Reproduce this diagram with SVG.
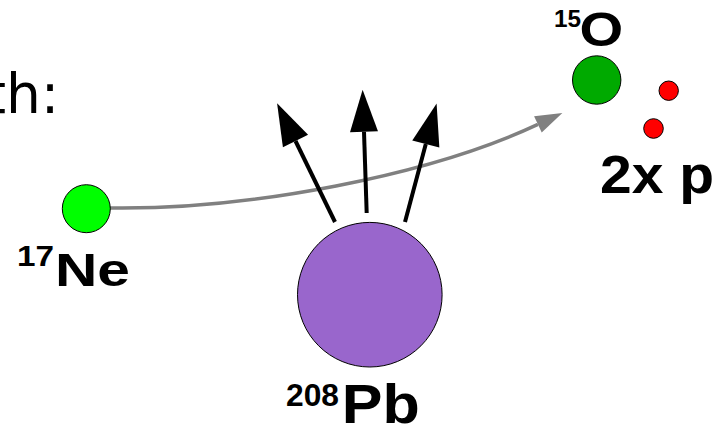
<svg xmlns="http://www.w3.org/2000/svg" width="721" height="426" viewBox="0 0 721 426">
<defs>
<style>
.lbl{font-family:"Liberation Sans",Arial,sans-serif;font-weight:bold;fill:#000}
.nuc{stroke:#000;stroke-width:1}
.blk{stroke:#000;stroke-width:4;fill:none}
.gry{stroke:#808080;stroke-width:3.5;fill:none}
</style>
<marker id="ab" markerUnits="userSpaceOnUse" markerWidth="44" markerHeight="30" refX="0" refY="14" orient="auto" overflow="visible">
<path d="M0,0 L42,14 L0,28 z" fill="#000"/>
</marker>
<marker id="ag" markerUnits="userSpaceOnUse" markerWidth="28" markerHeight="20" refX="0" refY="9" orient="auto" overflow="visible">
<path d="M0,0 L27,9 L0,18 z" fill="#808080"/>
</marker>
</defs>
<rect width="721" height="426" fill="#fff"/>
<text x="59.4" y="113.3" text-anchor="end" font-family="'DejaVu Sans',sans-serif" font-size="55" fill="#000">th:</text>
<g id="connectors">
<path class="gry" d="M110,208 C250,210 430,175 537.9,124.4" marker-end="url(#ag)"/>
<line class="blk" x1="335" y1="222" x2="295.5" y2="141" marker-end="url(#ab)"/>
<line class="blk" x1="366.7" y1="213" x2="364" y2="131.7" marker-end="url(#ab)"/>
<line class="blk" x1="405" y1="222" x2="425.8" y2="144" marker-end="url(#ab)"/>
</g>
<g id="ne17">
<circle class="nuc" cx="86.3" cy="208.7" r="24" fill="#00ff00"/>
<text class="lbl" x="17" y="266" font-size="29" textLength="37" lengthAdjust="spacingAndGlyphs">17</text>
<text class="lbl" x="55" y="286" font-size="46" textLength="75" lengthAdjust="spacingAndGlyphs">Ne</text>
</g>
<g id="pb208">
<circle class="nuc" cx="369.8" cy="294.7" r="72.3" fill="#9966cc"/>
<text class="lbl" x="286" y="406" font-size="31" textLength="53" lengthAdjust="spacingAndGlyphs">208</text>
<text class="lbl" x="341.7" y="423.3" font-size="56" textLength="78" lengthAdjust="spacingAndGlyphs">Pb</text>
</g>
<g id="o15">
<circle class="nuc" cx="596.7" cy="80" r="24.2" fill="#00aa00"/>
<text class="lbl" x="554" y="27" font-size="24" textLength="27" lengthAdjust="spacingAndGlyphs">15</text>
<text class="lbl" x="579.5" y="46" font-size="48" textLength="43.7" lengthAdjust="spacingAndGlyphs">O</text>
</g>
<g id="protons">
<circle class="nuc" cx="668.7" cy="90.7" r="9.7" fill="#ff0000"/>
<circle class="nuc" cx="653.5" cy="128.5" r="9.8" fill="#ff0000"/>
<text class="lbl" x="600" y="193" font-size="54" textLength="114" lengthAdjust="spacingAndGlyphs">2x p</text>
</g>
</svg>
